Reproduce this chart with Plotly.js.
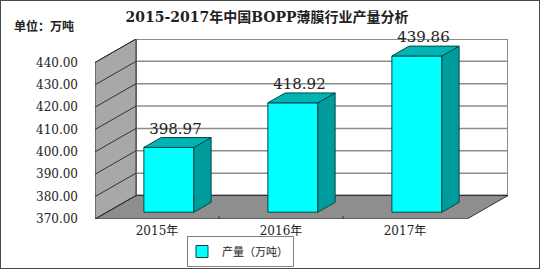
<!DOCTYPE html>
<html>
<head>
<meta charset="utf-8">
<script src="https://cdn.plot.ly/plotly-3.0.1.min.js"></script>
<style>
  html, body { margin: 0; padding: 0; background: #ffffff; }
  #chart { width: 538px; height: 267px; border: 1px solid #4a4a4a; }
</style>
</head>
<body>
<div id="chart"></div>
<script>
// ---- data ----
const categories = ['2015年', '2016年', '2017年'];
const production = [398.97, 418.92, 439.86];
const yTicks = [370, 380, 390, 400, 410, 420, 430, 440];
const seriesName = '产量（万吨）';
const chartTitle = '2015-2017年中国BOPP薄膜行业产量分析';
const unitLabel = '单位：万吨';

// ---- 3D look geometry (in axis units) ----
const yMin = yTicks[0], yMax = yTicks[yTicks.length - 1];
const catPx = 124;
const dxu = 41 / catPx;          // depth offset on x
const dyu = 10.5;                // depth offset on y
const barW = 50 / catPx;
const f1 = 0.29, f2 = 0.71;      // bar front/back depth fractions
const xs = categories.map((c, i) => i);
const xL = -0.5, xR = categories.length - 0.5;

const serif = "DejaVu Serif, Noto Sans CJK SC, serif";
const cjk = "Noto Sans CJK SC, DejaVu Serif, sans-serif";

const traces = [];
// side and top faces
xs.forEach((c, i) => {
  const v = production[i];
  const l = c - barW / 2, r = c + barW / 2;
  traces.push({
    type: 'scatter', mode: 'lines', fill: 'toself', showlegend: false, hoverinfo: 'skip',
    x: [r + f1 * dxu, r + f2 * dxu, r + f2 * dxu, r + f1 * dxu, r + f1 * dxu],
    y: [yMin + f1 * dyu, yMin + f2 * dyu, v + f2 * dyu, v + f1 * dyu, yMin + f1 * dyu],
    fillcolor: '#009b9b', line: { color: '#004848', width: 1 }
  });
  traces.push({
    type: 'scatter', mode: 'lines', fill: 'toself', showlegend: false, hoverinfo: 'skip',
    x: [l + f1 * dxu, r + f1 * dxu, r + f2 * dxu, l + f2 * dxu, l + f1 * dxu],
    y: [v + f1 * dyu, v + f1 * dyu, v + f2 * dyu, v + f2 * dyu, v + f1 * dyu],
    fillcolor: '#00b4b4', line: { color: '#004848', width: 1 }
  });
});
// front faces (real bar trace)
traces.push({
  type: 'bar', name: seriesName,
  x: xs.map(c => c + f1 * dxu),
  y: production.map(v => v - yMin),
  base: yMin + f1 * dyu,
  width: barW,
  marker: { color: '#00ffff', line: { color: '#004848', width: 1 } },
  hovertemplate: '%{text}<extra></extra>',
  text: production.map(v => v.toFixed(2)), textposition: 'none'
});
// value labels
traces.push({
  type: 'scatter', mode: 'text', showlegend: false, hoverinfo: 'skip',
  x: xs.map(c => c + 0.45 * dxu),
  y: production.map(v => v + f2 * dyu),
  text: production.map(v => v.toFixed(2)),
  textposition: 'top center',
  textfont: { family: serif, size: 15, color: '#222222' },
  cliponaxis: false
});

// walls, floor, gridlines
const shapes = [];
shapes.push({ type: 'rect', xref: 'x', yref: 'y', layer: 'below',
  x0: xL + dxu, x1: xR + dxu, y0: yMin + dyu, y1: yMax + dyu,
  fillcolor: '#ffffff', line: { color: '#8c8c8c', width: 2 } });
yTicks.forEach(t => {
  shapes.push({ type: 'line', xref: 'x', yref: 'y', layer: 'below',
    x0: xL + dxu, x1: xR + dxu, y0: t + dyu, y1: t + dyu,
    line: { color: '#8c8c8c', width: 1.5 } });
});
shapes.push({ type: 'path', xref: 'x', yref: 'y', layer: 'below',
  path: `M${xL},${yMin} L${xR},${yMin} L${xR + dxu},${yMin + dyu} L${xL + dxu},${yMin + dyu} Z`,
  fillcolor: '#8e8e8e', line: { color: '#333333', width: 1 } });
shapes.push({ type: 'path', xref: 'x', yref: 'y', layer: 'below',
  path: `M${xL},${yMin} L${xL + dxu},${yMin + dyu} L${xL + dxu},${yMax + dyu} L${xL},${yMax} Z`,
  fillcolor: '#a8a8a8', line: { color: '#333333', width: 1 } });
yTicks.forEach(t => {
  shapes.push({ type: 'line', xref: 'x', yref: 'y', layer: 'below',
    x0: xL, x1: xL + dxu, y0: t, y1: t + dyu,
    line: { color: '#333333', width: 1 } });
});
xs.slice(1).forEach(c => {
  shapes.push({ type: 'line', xref: 'x', yref: 'y', layer: 'above',
    x0: c - 0.5, x1: c - 0.5, y0: yMin, y1: yMin + 1.3,
    line: { color: '#333333', width: 1 } });
});

const plotTop = 38, plotH = 180, plotL = 94, plotW = 413;
const layout = {
  width: 538, height: 267,
  margin: { l: plotL, r: 538 - plotL - plotW, t: plotTop, b: 267 - plotTop - plotH, autoexpand: false },
  paper_bgcolor: '#ffffff', plot_bgcolor: 'rgba(0,0,0,0)',
  title: { text: chartTitle, x: 266 / 538, xref: 'container', xanchor: 'center',
    y: 1 - 16 / 267, yref: 'container', yanchor: 'middle',
    font: { family: serif, size: 14, color: '#222222', weight: 700 } },
  xaxis: { range: [xL, xR + dxu], tickvals: xs, ticktext: categories,
    showgrid: false, zeroline: false, showline: false, ticks: '',
    ticklabelstandoff: 3, tickfont: { family: serif, size: 12, color: '#222222' }, fixedrange: true },
  yaxis: { range: [yMin, yMax + dyu], tickvals: yTicks, tickformat: '.2f',
    showgrid: false, zeroline: false, showline: false, ticks: '',
    ticklabelstandoff: 16, tickfont: { family: serif, size: 12, color: '#222222' }, fixedrange: true },
  shapes: shapes,
  annotations: [{ text: unitLabel, xref: 'paper', yref: 'paper',
    x: (11 - plotL) / plotW, y: (plotTop + plotH - 24) / plotH,
    xanchor: 'left', yanchor: 'middle', showarrow: false,
    font: { family: cjk, size: 12, color: '#222222', weight: 700 } }],
  showlegend: true,
  legend: { x: (186 - plotL) / plotW, xanchor: 'left', y: -(266 - plotTop - plotH) / plotH, yanchor: 'bottom',
    orientation: 'v', bgcolor: '#ffffff', bordercolor: '#808080', borderwidth: 1,
    font: { family: cjk, size: 11, color: '#222222' }, itemwidth: 30,
    tracegroupgap: 0, indentation: -6 },
  bargap: 0
};

Plotly.newPlot('chart', traces, layout, { displayModeBar: false, staticPlot: true });
</script>
</body>
</html>
